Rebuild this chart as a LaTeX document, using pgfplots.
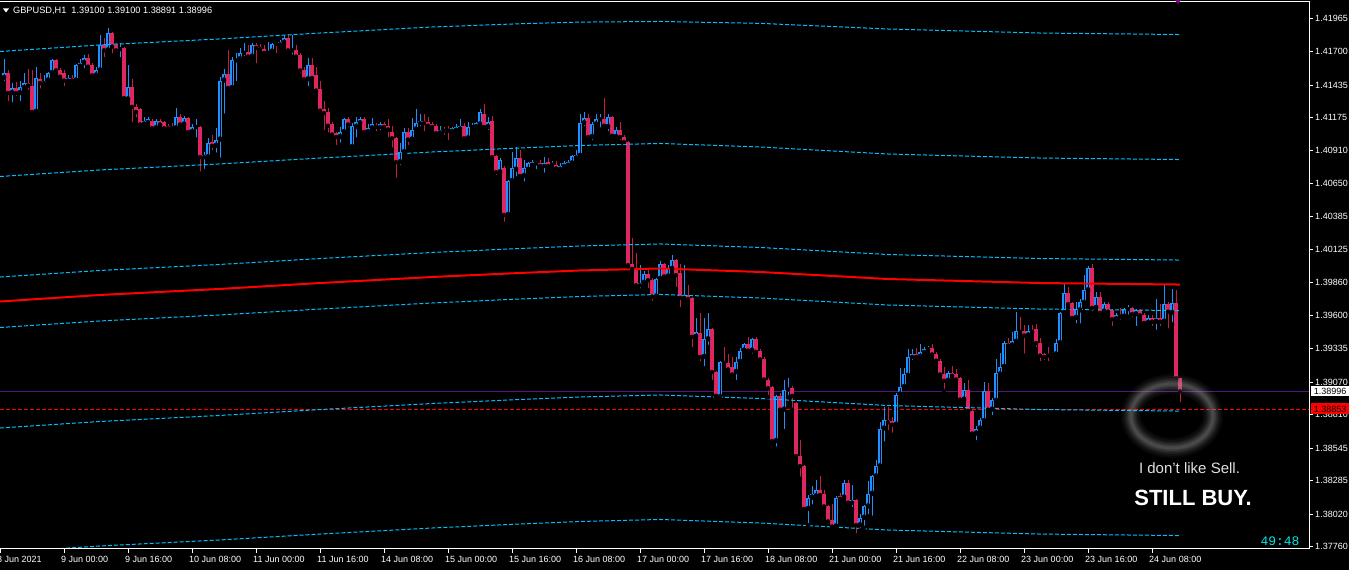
\documentclass[border=0pt]{standalone}
\usepackage{pgfplots}
\usepackage{pgfplotstable}
\pgfplotsset{compat=1.18}
\usepackage{fontspec}
\setmainfont{Liberation Sans}
\newfontfamily\monofont{Liberation Mono}
\definecolor{bull}{RGB}{30,144,255}
\definecolor{bearb}{RGB}{222,38,98}
\definecolor{bearw}{RGB}{200,30,60}
\definecolor{env}{RGB}{0,191,255}
\definecolor{bidline}{RGB}{90,20,130}
\definecolor{clock}{RGB}{0,230,230}
\pgfplotstableread{
i o h l c
1 1.4149 1.4164 1.4145 1.4153
2 1.4153 1.4155 1.4129 1.4137
3 1.4137 1.4145 1.4128 1.4141
4 1.4141 1.4146 1.4133 1.4137
5 1.4137 1.4147 1.4129 1.4142
6 1.4141 1.4153 1.4138 1.4145
7 1.4145 1.4156 1.4138 1.4143
8 1.4143 1.4155 1.4120 1.4122
9 1.4122 1.4158 1.4121 1.4149
10 1.4148 1.4153 1.4139 1.4145
11 1.4145 1.4151 1.4142 1.4147
12 1.4147 1.4154 1.4144 1.4153
13 1.4153 1.4164 1.4151 1.4163
14 1.4163 1.4164 1.4153 1.4155
15 1.4155 1.4157 1.4147 1.4150
16 1.4153 1.4155 1.4141 1.4147
17 1.4147 1.4151 1.4145 1.4149
18 1.4149 1.4151 1.4146 1.4147
19 1.4147 1.4160 1.4146 1.4159
20 1.4158 1.4164 1.4155 1.4161
21 1.4161 1.4167 1.4155 1.4165
22 1.4165 1.4168 1.4157 1.4158
23 1.4159 1.4161 1.4149 1.4151
24 1.4151 1.4158 1.4149 1.4155
25 1.4155 1.4183 1.4154 1.4175
26 1.4175 1.4181 1.4164 1.4171
27 1.4171 1.4189 1.4170 1.4185
28 1.4185 1.4186 1.4167 1.4174
29 1.4175 1.4177 1.4170 1.4171
30 1.4172 1.4177 1.4164 1.4173
31 1.4173 1.4174 1.4132 1.4133
32 1.4132 1.4159 1.4130 1.4142
33 1.4142 1.4148 1.4112 1.4126
34 1.4126 1.4128 1.4116 1.4122
35 1.4124 1.4125 1.4110 1.4112
36 1.4112 1.4118 1.4111 1.4115
37 1.4114 1.4118 1.4111 1.4116
38 1.4115 1.4116 1.4108 1.4109
39 1.4109 1.4116 1.4108 1.4115
40 1.4115 1.4116 1.4111 1.4112
41 1.4114 1.4115 1.4108 1.4109
42 1.4111 1.4112 1.4108 1.4109
43 1.4110 1.4113 1.4108 1.4109
44 1.4109 1.4125 1.4108 1.4118
45 1.4118 1.4120 1.4111 1.4112
46 1.4112 1.4119 1.4111 1.4117
47 1.4117 1.4118 1.4103 1.4106
48 1.4106 1.4112 1.4104 1.4110
49 1.4110 1.4116 1.4100 1.4111
50 1.4110 1.4111 1.4073 1.4086
51 1.4086 1.4090 1.4075 1.4088
52 1.4086 1.4101 1.4085 1.4097
53 1.4098 1.4104 1.4090 1.4095
54 1.4095 1.4109 1.4088 1.4100
55 1.4100 1.4150 1.4084 1.4147
56 1.4147 1.4156 1.4119 1.4152
57 1.4152 1.4171 1.4140 1.4141
58 1.4141 1.4166 1.4140 1.4163
59 1.4163 1.4169 1.4145 1.4164
60 1.4164 1.4173 1.4161 1.4169
61 1.4169 1.4177 1.4165 1.4170
62 1.4170 1.4175 1.4165 1.4166
63 1.4166 1.4177 1.4165 1.4175
64 1.4175 1.4177 1.4159 1.4173
65 1.4174 1.4176 1.4169 1.4172
66 1.4172 1.4175 1.4167 1.4169
67 1.4169 1.4178 1.4167 1.4170
68 1.4170 1.4177 1.4169 1.4176
69 1.4177 1.4178 1.4167 1.4176
70 1.4175 1.4179 1.4174 1.4178
71 1.4177 1.4183 1.4176 1.4181
72 1.4181 1.4184 1.4170 1.4171
73 1.4171 1.4183 1.4166 1.4172
74 1.4171 1.4175 1.4165 1.4166
75 1.4167 1.4169 1.4151 1.4155
76 1.4155 1.4158 1.4146 1.4148
77 1.4148 1.4165 1.4141 1.4159
78 1.4159 1.4165 1.4147 1.4149
79 1.4151 1.4158 1.4138 1.4139
80 1.4140 1.4147 1.4122 1.4123
81 1.4124 1.4131 1.4106 1.4121
82 1.4122 1.4125 1.4104 1.4111
83 1.4112 1.4114 1.4102 1.4104
84 1.4105 1.4106 1.4094 1.4102
85 1.4102 1.4110 1.4096 1.4106
86 1.4106 1.4117 1.4104 1.4116
87 1.4116 1.4118 1.4108 1.4112
88 1.4094 1.4113 1.4093 1.4111
89 1.4110 1.4118 1.4100 1.4114
90 1.4113 1.4118 1.4112 1.4116
91 1.4116 1.4118 1.4105 1.4106
92 1.4106 1.4112 1.4104 1.4109
93 1.4109 1.4117 1.4108 1.4112
94 1.4111 1.4113 1.4105 1.4110
95 1.4110 1.4114 1.4106 1.4112
96 1.4112 1.4114 1.4108 1.4110
97 1.4111 1.4116 1.4100 1.4108
98 1.4106 1.4111 1.4092 1.4101
99 1.4101 1.4102 1.4068 1.4082
100 1.4082 1.4097 1.4078 1.4090
101 1.4090 1.4109 1.4089 1.4106
102 1.4106 1.4109 1.4094 1.4100
103 1.4100 1.4117 1.4099 1.4108
104 1.4108 1.4124 1.4106 1.4113
105 1.4113 1.4120 1.4109 1.4115
106 1.4115 1.4120 1.4105 1.4113
107 1.4114 1.4118 1.4110 1.4111
108 1.4112 1.4114 1.4108 1.4110
109 1.4111 1.4112 1.4104 1.4105
110 1.4105 1.4111 1.4104 1.4108
111 1.4108 1.4110 1.4102 1.4107
112 1.4108 1.4111 1.4098 1.4107
113 1.4107 1.4110 1.4105 1.4109
114 1.4107 1.4112 1.4105 1.4110
115 1.4108 1.4116 1.4106 1.4111
116 1.4111 1.4113 1.4100 1.4101
117 1.4101 1.4114 1.4099 1.4110
118 1.4110 1.4113 1.4108 1.4111
119 1.4110 1.4114 1.4109 1.4113
120 1.4112 1.4124 1.4109 1.4122
121 1.4120 1.4128 1.4108 1.4110
122 1.4110 1.4118 1.4106 1.4114
123 1.4115 1.4119 1.4084 1.4086
124 1.4087 1.4088 1.4070 1.4074
125 1.4074 1.4085 1.4073 1.4084
126 1.4077 1.4079 1.4033 1.4040
127 1.4040 1.4068 1.4039 1.4067
128 1.4067 1.4090 1.4066 1.4077
129 1.4076 1.4094 1.4069 1.4085
130 1.4085 1.4092 1.4070 1.4071
131 1.4071 1.4084 1.4065 1.4077
132 1.4076 1.4082 1.4074 1.4081
133 1.4080 1.4084 1.4078 1.4082
134 1.4081 1.4083 1.4075 1.4082
135 1.4081 1.4084 1.4077 1.4079
136 1.4079 1.4086 1.4072 1.4081
137 1.4082 1.4085 1.4078 1.4079
138 1.4080 1.4083 1.4077 1.4081
139 1.4080 1.4083 1.4076 1.4077
140 1.4076 1.4081 1.4075 1.4079
141 1.4079 1.4083 1.4077 1.4081
142 1.4080 1.4084 1.4078 1.4082
143 1.4081 1.4088 1.4080 1.4087
144 1.4085 1.4092 1.4083 1.4088
145 1.4087 1.4120 1.4086 1.4113
146 1.4113 1.4122 1.4109 1.4117
147 1.4117 1.4120 1.4101 1.4102
148 1.4102 1.4114 1.4098 1.4112
149 1.4112 1.4120 1.4111 1.4116
150 1.4116 1.4120 1.4108 1.4117
151 1.4116 1.4133 1.4110 1.4111
152 1.4110 1.4120 1.4105 1.4118
153 1.4118 1.4119 1.4102 1.4103
154 1.4102 1.4110 1.4100 1.4108
155 1.4108 1.4114 1.4098 1.4102
156 1.4102 1.4104 1.4094 1.4098
157 1.4098 1.4099 1.3999 1.4000
158 1.4001 1.4022 1.3995 1.3997
159 1.3998 1.4010 1.3982 1.3984
160 1.3984 1.4000 1.3980 1.3986
161 1.3986 1.3995 1.3985 1.3993
162 1.3993 1.3996 1.3980 1.3988
163 1.3988 1.3990 1.3970 1.3975
164 1.3975 1.3990 1.3974 1.3989
165 1.3989 1.4003 1.3988 1.4001
166 1.4001 1.4002 1.3990 1.3991
167 1.3991 1.4000 1.3990 1.3997
168 1.3997 1.4008 1.3994 1.4004
169 1.4004 1.4005 1.3981 1.3992
170 1.3994 1.4001 1.3965 1.3974
171 1.3974 1.4000 1.3971 1.3976
172 1.3976 1.3984 1.3971 1.3973
173 1.3974 1.3975 1.3933 1.3943
174 1.3943 1.3958 1.3941 1.3947
175 1.3946 1.3962 1.3922 1.3927
176 1.3927 1.3958 1.3918 1.3941
177 1.3941 1.3962 1.3935 1.3949
178 1.3949 1.3950 1.3907 1.3915
179 1.3915 1.3916 1.3895 1.3896
180 1.3895 1.3924 1.3894 1.3923
181 1.3923 1.3935 1.3921 1.3922
182 1.3922 1.3929 1.3916 1.3917
183 1.3919 1.3927 1.3912 1.3913
184 1.3915 1.3927 1.3907 1.3923
185 1.3923 1.3934 1.3921 1.3932
186 1.3932 1.3938 1.3930 1.3937
187 1.3937 1.3943 1.3931 1.3932
188 1.3932 1.3942 1.3928 1.3941
189 1.3941 1.3943 1.3930 1.3931
190 1.3932 1.3933 1.3924 1.3925
191 1.3925 1.3927 1.3908 1.3909
192 1.3909 1.3910 1.3895 1.3902
193 1.3903 1.3904 1.3858 1.3860
194 1.3860 1.3897 1.3854 1.3896
195 1.3896 1.3898 1.3884 1.3885
196 1.3885 1.3909 1.3868 1.3901
197 1.3901 1.3910 1.3895 1.3902
198 1.3902 1.3904 1.3885 1.3896
199 1.3890 1.3891 1.3846 1.3848
200 1.3848 1.3861 1.3830 1.3840
201 1.3840 1.3841 1.3805 1.3806
202 1.3806 1.3817 1.3793 1.3815
203 1.3815 1.3824 1.3808 1.3818
204 1.3816 1.3829 1.3815 1.3821
205 1.3821 1.3832 1.3816 1.3817
206 1.3818 1.3821 1.3807 1.3808
207 1.3808 1.3809 1.3795 1.3796
208 1.3797 1.3810 1.3791 1.3792
209 1.3792 1.3816 1.3791 1.3815
210 1.3816 1.3819 1.3813 1.3814
211 1.3815 1.3829 1.3814 1.3827
212 1.3827 1.3829 1.3810 1.3811
213 1.3811 1.3825 1.3806 1.3813
214 1.3813 1.3814 1.3785 1.3793
215 1.3793 1.3802 1.3789 1.3799
216 1.3799 1.3809 1.3791 1.3808
217 1.3808 1.3828 1.3800 1.3818
218 1.3818 1.3833 1.3799 1.3832
219 1.3832 1.3845 1.3831 1.3840
220 1.3840 1.3875 1.3839 1.3870
221 1.3870 1.3887 1.3858 1.3877
222 1.3877 1.3887 1.3867 1.3875
223 1.3876 1.3879 1.3865 1.3873
224 1.3873 1.3898 1.3872 1.3897
225 1.3897 1.3918 1.3896 1.3903
226 1.3903 1.3918 1.3902 1.3913
227 1.3912 1.3933 1.3911 1.3927
228 1.3927 1.3933 1.3923 1.3929
229 1.3929 1.3934 1.3925 1.3927
230 1.3927 1.3937 1.3926 1.3931
231 1.3931 1.3935 1.3929 1.3933
232 1.3933 1.3936 1.3932 1.3934
233 1.3934 1.3937 1.3928 1.3929
234 1.3929 1.3931 1.3922 1.3924
235 1.3924 1.3925 1.3912 1.3913
236 1.3913 1.3919 1.3900 1.3908
237 1.3908 1.3916 1.3905 1.3914
238 1.3914 1.3920 1.3911 1.3912
239 1.3913 1.3917 1.3908 1.3909
240 1.3910 1.3911 1.3892 1.3893
241 1.3893 1.3906 1.3892 1.3901
242 1.3901 1.3909 1.3883 1.3884
243 1.3884 1.3885 1.3865 1.3866
244 1.3866 1.3872 1.3859 1.3870
245 1.3870 1.3878 1.3869 1.3877
246 1.3876 1.3907 1.3875 1.3900
247 1.3900 1.3906 1.3883 1.3885
248 1.3885 1.3894 1.3879 1.3893
249 1.3892 1.3925 1.3891 1.3914
250 1.3913 1.3930 1.3912 1.3919
251 1.3919 1.3940 1.3918 1.3938
252 1.3938 1.3942 1.3935 1.3936
253 1.3936 1.3947 1.3935 1.3940
254 1.3939 1.3963 1.3938 1.3948
255 1.3948 1.3959 1.3944 1.3947
256 1.3948 1.3952 1.3928 1.3944
257 1.3944 1.3952 1.3943 1.3948
258 1.3948 1.3952 1.3946 1.3947
259 1.3949 1.3953 1.3933 1.3938
260 1.3938 1.3942 1.3922 1.3928
261 1.3929 1.3930 1.3923 1.3927
262 1.3929 1.3935 1.3922 1.3928
263 1.3929 1.3931 1.3927 1.3930
264 1.3929 1.3941 1.3928 1.3938
265 1.3938 1.3963 1.3937 1.3962
266 1.3962 1.3986 1.3961 1.3978
267 1.3978 1.3983 1.3966 1.3969
268 1.3970 1.3971 1.3957 1.3958
269 1.3958 1.3971 1.3952 1.3965
270 1.3964 1.3973 1.3952 1.3971
271 1.3970 1.3992 1.3969 1.3980
272 1.3980 1.3999 1.3979 1.3998
273 1.3998 1.4001 1.3962 1.3966
274 1.3966 1.3979 1.3964 1.3975
275 1.3975 1.3979 1.3961 1.3962
276 1.3963 1.3971 1.3960 1.3969
277 1.3969 1.3971 1.3961 1.3963
278 1.3964 1.3965 1.3950 1.3957
279 1.3957 1.3962 1.3956 1.3960
280 1.3960 1.3966 1.3955 1.3959
281 1.3959 1.3966 1.3958 1.3965
282 1.3965 1.3968 1.3959 1.3966
283 1.3966 1.3967 1.3957 1.3961
284 1.3961 1.3965 1.3950 1.3964
285 1.3964 1.3965 1.3957 1.3960
286 1.3960 1.3962 1.3953 1.3954
287 1.3954 1.3960 1.3952 1.3958
288 1.3958 1.3960 1.3950 1.3955
289 1.3955 1.3973 1.3947 1.3958
290 1.3958 1.3969 1.3950 1.3955
291 1.3955 1.3985 1.3954 1.3969
292 1.3969 1.3971 1.3948 1.3963
293 1.3962 1.3981 1.3953 1.3970
294 1.3970 1.3980 1.3909 1.3910
295 1.39100 1.39100 1.38891 1.38996
}\data
\begin{document}
\begin{tikzpicture}
\useasboundingbox (0pt,0pt) rectangle (1349pt,570pt);
\fill[black] (0pt,0pt) rectangle (1349pt,570pt);
\begin{axis}[
  at={(0pt,21pt)}, anchor=south west,
  scale only axis, width=1309pt, height=547pt,
  xmin=0, xmax=327.25, ymin=1.37741, ymax=1.42095,
  axis line style={draw=none},
  tick align=outside, major tick length=4pt,
  tick style={draw=white, line width=0.8pt},
  xtick pos=lower, ytick pos=upper,
  yticklabel pos=right,
  xtick={0,16,...,288},
  xticklabels={8 Jun 2021,9 Jun 00:00,9 Jun 16:00,10 Jun 08:00,11 Jun 00:00,11 Jun 16:00,14 Jun 08:00,15 Jun 00:00,15 Jun 16:00,16 Jun 08:00,17 Jun 00:00,17 Jun 16:00,18 Jun 08:00,21 Jun 00:00,21 Jun 16:00,22 Jun 08:00,23 Jun 00:00,23 Jun 16:00,24 Jun 08:00},
  ytick={1.37760,1.38020,1.38285,1.38545,1.38810,1.39070,1.39335,1.39600,1.39860,1.40125,1.40385,1.40650,1.40910,1.41175,1.41435,1.41700,1.41965},
  yticklabels={1.37760,1.38020,1.38285,1.38545,1.38810,1.39070,1.39335,1.39600,1.39860,1.40125,1.40385,1.40650,1.40910,1.41175,1.41435,1.41700,1.41965},
  xticklabel style={anchor=north west, inner sep=0pt, xshift=-3pt, yshift=-3pt, text=white, font=\fontsize{9}{10}\selectfont},
  yticklabel style={anchor=west, inner sep=0pt, xshift=2pt, text=white, font=\fontsize{9}{10}\selectfont},
]
% current price and stop lines
\addplot[bidline, line width=1pt, forget plot] coordinates {(0,1.38996) (327.25,1.38996)};
\addplot[red, line width=1pt, dash pattern=on 4pt off 2pt, forget plot] coordinates {(0,1.38853) (327.25,1.38853)};
% wicks
\addplot[only marks, mark=none, forget plot,
  restrict expr to domain={\thisrow{c}-\thisrow{o}}{0:1},
  error bars/.cd, y dir=plus, y explicit, error mark=none,
  error bar style={draw=bull, line width=1pt}]
  table[x=i, y=l, y error plus expr=\thisrow{h}-\thisrow{l}] {\data};
\addplot[only marks, mark=none, forget plot,
  restrict expr to domain={\thisrow{c}-\thisrow{o}}{-1:-0.000001},
  error bars/.cd, y dir=plus, y explicit, error mark=none,
  error bar style={draw=bearw, line width=1pt}]
  table[x=i, y=l, y error plus expr=\thisrow{h}-\thisrow{l}] {\data};
% bodies
\addplot[only marks, mark=none, forget plot,
  restrict expr to domain={\thisrow{c}-\thisrow{o}}{0:1},
  error bars/.cd, y dir=plus, y explicit, error mark=none,
  error bar style={draw=bull, line width=3.3pt}]
  table[x=i, y=o, y error plus expr={max(\thisrow{c}-\thisrow{o},0.00009)}] {\data};
\addplot[only marks, mark=none, forget plot,
  restrict expr to domain={\thisrow{c}-\thisrow{o}}{0.00025:1},
  error bars/.cd, y dir=plus, y explicit, error mark=none,
  error bar style={draw=black, line width=0.9pt}]
  table[x=i, y expr=\thisrow{o}+0.00008, y error plus expr=\thisrow{c}-\thisrow{o}-0.00016] {\data};
\addplot[only marks, mark=none, forget plot,
  restrict expr to domain={\thisrow{c}-\thisrow{o}}{-1:-0.000001},
  error bars/.cd, y dir=plus, y explicit, error mark=none,
  error bar style={draw=bearb, line width=3.3pt}]
  table[x=i, y=c, y error plus expr={max(\thisrow{o}-\thisrow{c},0.00009)}] {\data};
% envelopes
\addplot[env, line width=1pt, dash pattern=on 4pt off 2pt] coordinates {(0,1.41701) (25,1.41753) (55,1.41801) (80,1.41848) (108,1.41896) (130,1.41922) (145,1.41935) (165,1.41940) (190,1.41925) (222,1.41880) (260,1.41848) (295,1.41836)};
\addplot[env, line width=1pt, dash pattern=on 4pt off 2pt] coordinates {(0,1.40706) (25,1.40758) (55,1.40806) (80,1.40853) (108,1.40901) (130,1.40933) (145,1.40953) (165,1.40969) (190,1.40941) (222,1.40885) (260,1.40853) (295,1.40841)};
\addplot[env, line width=1pt, dash pattern=on 4pt off 2pt] coordinates {(0,1.39906) (25,1.39958) (55,1.40006) (80,1.40053) (108,1.40101) (130,1.40133) (145,1.40153) (165,1.40169) (190,1.40141) (222,1.40085) (260,1.40053) (295,1.40041)};
\addplot[env, line width=1pt, dash pattern=on 4pt off 2pt] coordinates {(0,1.39504) (25,1.39556) (55,1.39604) (80,1.39651) (108,1.39699) (130,1.39731) (145,1.39751) (165,1.39767) (190,1.39739) (222,1.39683) (260,1.39651) (295,1.39639)};
\addplot[env, line width=1pt, dash pattern=on 4pt off 2pt] coordinates {(0,1.38704) (25,1.38756) (55,1.38804) (80,1.38851) (108,1.38899) (130,1.38931) (145,1.38951) (165,1.38967) (190,1.38939) (222,1.38883) (260,1.38851) (295,1.38839)};
\addplot[env, line width=1pt, dash pattern=on 4pt off 2pt] coordinates {(0,1.37713) (25,1.37765) (55,1.37813) (80,1.37860) (108,1.37908) (130,1.37940) (145,1.37960) (165,1.37976) (190,1.37948) (222,1.37892) (260,1.37860) (295,1.37848)};
% moving average
\addplot[red, line width=2pt] coordinates {(0,1.39711) (25,1.39763) (55,1.39811) (80,1.39858) (108,1.39906) (130,1.39938) (145,1.39958) (165,1.39974) (190,1.39946) (222,1.39890) (260,1.39858) (295,1.39846)};
\end{axis}
% frame
\draw[white, line width=1pt] (0pt,568pt) -- (1309pt,568pt) -- (1309pt,21pt) -- (0pt,21pt);
% price boxes
\node[fill=white, text=black, anchor=west, inner sep=1pt, minimum height=10pt, minimum width=38pt, font=\fontsize{9}{10}\selectfont] at (1311pt,178.5pt) {1.38996};
\node[fill=red, text=black, anchor=west, inner sep=1pt, minimum height=11pt, minimum width=38pt, font=\fontsize{9}{10}\selectfont] at (1311pt,161pt) {1.38853};
% header
\fill[white] (3pt,561.5pt) -- (9pt,561.5pt) -- (6pt,557.5pt) -- cycle;
\node[anchor=west, inner sep=0pt, text=white, font=\fontsize{9.2}{10}\selectfont] at (13pt,559pt) {GBPUSD,H1\ \ 1.39100 1.39100 1.38891 1.38996};
\fill[violet] (1175pt,570pt) -- (1181pt,570pt) -- (1178pt,566pt) -- cycle;
% hand-drawn circle (soft glow)
\foreach \w/\o in {20/0.05, 16/0.07, 12/0.09, 9/0.11, 6/0.13, 3/0.15}
  \draw[line width=\w pt, draw=gray!75, opacity=\o] (1172pt,154pt) ellipse [x radius=41pt, y radius=32pt];
% annotations
\node[text={rgb,255:red,225;green,225;blue,225}, font=\fontsize{15}{17}\selectfont] at (1189.5pt,102pt) {I don't like Sell.};
\node[text=white, font=\bfseries\fontsize{22}{24}\selectfont] at (1193pt,72pt) {STILL BUY.};
\node[text=clock, font=\monofont\fontsize{13}{14}\selectfont] at (1280pt,29pt) {49:48};
\end{tikzpicture}
\end{document}
